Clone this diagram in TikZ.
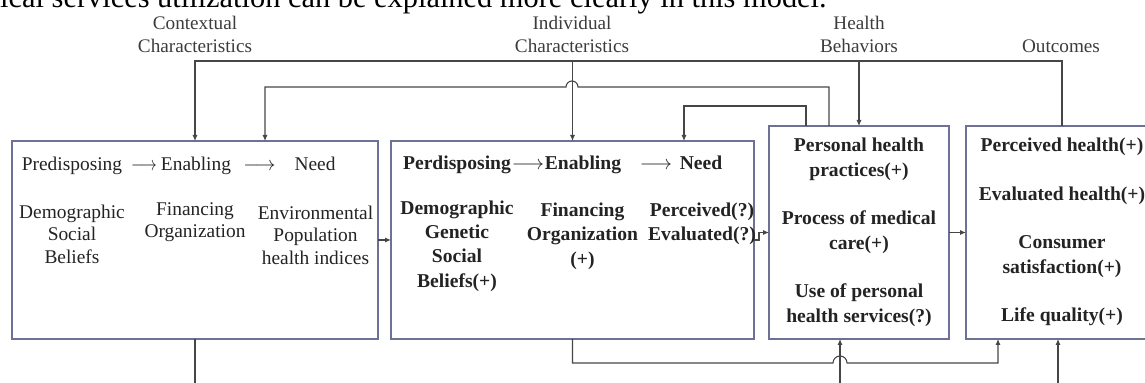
\documentclass[tikz,border=0pt]{standalone}
\usepackage{fontspec}
\setmainfont{Liberation Serif}
\usepackage{graphicx}
\usetikzlibrary{arrows.meta}
\definecolor{boxc}{RGB}{110,112,150}
\definecolor{linec}{RGB}{70,70,70}
\definecolor{txtc}{RGB}{35,35,35}
\definecolor{labc}{RGB}{60,60,60}
\begin{document}
\begin{tikzpicture}[x=0.5pt,y=-0.5pt,
  box/.style={draw=boxc, line width=0.6pt, inner sep=0pt, outer sep=0pt, anchor=north west},
  conn/.style={draw=linec, line width=0.55pt},
  arr/.style={conn, -{Latex[length=3pt,width=2.6pt]}},
  lab/.style={font=\fontsize{9.6}{11.5}\selectfont, text=labc, align=center, inner sep=0pt},
  tnorm/.style={font=\fontsize{9.7}{11.25}\selectfont, text=txtc, align=center, inner sep=0pt},
  tbold/.style={font=\bfseries\fontsize{9.8}{12.2}\selectfont, text=txtc, align=center, inner sep=0pt},
  tbig/.style={font=\bfseries\fontsize{9.8}{12.5}\selectfont, text=txtc, align=center, inner sep=0pt}]
\useasboundingbox (0,0) rectangle (1145,383);
\clip (0,0) rectangle (1145,383);

% cut-off line of running text
\node[anchor=base east, font=\fontsize{15.2}{18}\selectfont, inner sep=0pt] (ttl) at (827,8)
  {ical services utilization can be explained more clearly in this model.};

% column labels
\node[lab] (l1) at (195,34.5) {Contextual\\Characteristics};
\node[lab] (l2) at (572,34.5) {Individual\\Characteristics};
\node[lab] (l3) at (859,34.5) {Health\\Behaviors};
\node[lab] (l4) at (1061,46) {Outcomes};

% boxes
\node[box, minimum width=183pt, minimum height=99pt] (b1) at (12,141) {};
\node[box, minimum width=181.5pt, minimum height=99pt] (b2) at (391,141) {};
\node[box, minimum width=90pt, minimum height=106.5pt] (b3) at (769,126) {};
\node[box, minimum width=96pt, minimum height=106.5pt] (b4) at (966,126) {};

% box 1 text
\node[tnorm, anchor=base] (h11) at (72,171) {Predisposing};
\node[tnorm, anchor=base] (a11) at (144,171) {\scalebox{0.8}[1]{$\longrightarrow$}};
\node[tnorm, anchor=base] (h12) at (196,171) {Enabling};
\node[tnorm, anchor=base] (a12) at (259.5,171) {$\longrightarrow$};
\node[tnorm, anchor=base] (h13) at (315,171) {Need};
\node[tnorm] (c11) at (72,234) {Demographic\\Social\\Beliefs};
\node[tnorm] (c12) at (195,222) {Financing\\Organization};
\node[tnorm] (c13) at (315.5,235) {Environmental\\Population\\health indices};

% box 2 text
\node[tbold, anchor=base] (h21) at (457,170) {Perdisposing};
\node[tbold, anchor=base] (a21) at (528,170) {\mdseries$\longrightarrow$};
\node[tbold, anchor=base] (h22) at (583,170) {Enabling};
\node[tbold, anchor=base] (a22) at (656,170) {\mdseries$\longrightarrow$};
\node[tbold, anchor=base] (h23) at (701,170) {Need};
\node[tbold] (c21) at (457,246) {Demographic\\Genetic\\Social\\Beliefs(+)};
\node[tbold] (c22) at (582.5,236) {Financing\\Organization\\(+)};
\node[tbold] (c23) at (702,223.5) {Perceived(?)\\Evaluated(?)};

% box 3 text
\node[tbig] (c31) at (859,159.5) {Personal health\\practices(+)};
\node[tbig] (c32) at (859,232.5) {Process of medical\\care(+)};
\node[tbig] (c33) at (859,305) {Use of personal\\health services(?)};

% box 4 text
\node[tbig] (c41) at (1062,147) {Perceived health(+)};
\node[tbig] (c42) at (1062,196) {Evaluated health(+)};
\node[tbig] (c43) at (1062,257) {Consumer\\satisfaction(+)};
\node[tbig] (c44) at (1062,317) {Life quality(+)};

% top connectors
\coordinate (top) at (0,61);
\draw[arr] (b4.north) -- (b4.north |- top) -| (b1.north);
\draw[arr] (b2.north |- top) -- (b2.north);
\draw[arr] (b3.north |- top) -- (b3.north);

\coordinate (s2) at (829,126);
\coordinate (e2) at (265,141);
\draw[arr] (s2) -- (829,87) -- (578,87) arc[start angle=0, end angle=-180, radius=6] -- (265,87) -- (e2);

\coordinate (s3) at (806,126);
\coordinate (e3) at (684,141);
\draw[arr] (s3) -- (806,106) -| (e3);

% horizontal flow
\draw[arr] (b1.east) -- (b2.west);
\draw[arr] (b2.east) -- ++(5,0) |- (b3.west);
\draw[arr] (b3.east) -- (b4.west);

% bottom connectors
\coordinate (e4) at (998,339);
\draw[arr] (b2.south) -- (572.5,363) -- (833,363) arc[start angle=180, end angle=360, radius=7] -- (998,363) -- (e4);
\coordinate (f1) at (195,395);
\draw[conn] (b1.south) -- (f1);
\coordinate (f2) at (840,395);
\coordinate (e5) at (840,339);
\draw[arr] (f2) -- (e5);
\coordinate (f3) at (1058,395);
\coordinate (e6) at (1058,339);
\draw[arr] (f3) -- (e6);
\end{tikzpicture}
\end{document}
